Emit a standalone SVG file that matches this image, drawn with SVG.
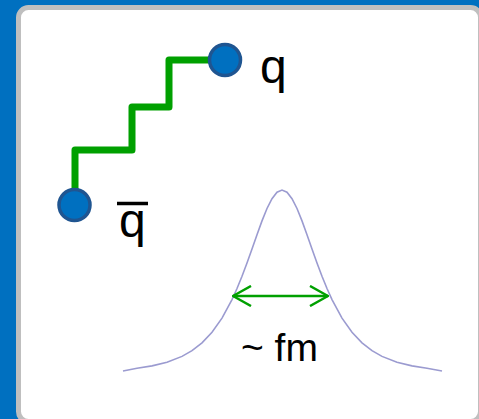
<svg xmlns="http://www.w3.org/2000/svg" width="479" height="419" viewBox="0 0 479 419">
<defs>
<style>
.lbl{font-family:"Liberation Sans",Arial,sans-serif;fill:#000}
.node{fill:#0070C0;stroke:#1F5591;stroke-width:3.5}
</style>
<marker id="ah" viewBox="0 0 20 22" refX="19" refY="11" markerWidth="20" markerHeight="22" markerUnits="userSpaceOnUse" orient="auto-start-reverse">
<path d="M1,1 L19,11 L1,21" fill="none" stroke="#00A000" stroke-width="2.5"/>
</marker>
</defs>
<rect x="0" y="0" width="479" height="419" fill="#0070C0"/>
<rect x="18.5" y="7.5" width="462" height="414" rx="10" fill="#FFFFFF" stroke="#BFBFBF" stroke-width="5"/>
<g id="connectors">
<path id="string" d="M225,60 H169 V107 H132 V150 H75 V203" fill="none" stroke="#00A000" stroke-width="7" stroke-linejoin="round"/>
<polyline id="curve" fill="none" stroke="#9B9BD0" stroke-width="1.6" points="123,371 137,368.2 152,365.9 167,362.2 182,356.4 192,350.6 202,342.8 212,332.2 222,318.1 232,299.6 237,288.5 242,276.3 247,263 252,248.9 257,234.7 262,220.9 267,208.5 272,198.7 277,192.2 282,190 287,192.2 292,198.7 297,208.5 302,220.9 307,234.7 312,248.9 317,263 322,276.3 327,288.5 332,299.6 342,318.1 352,332.2 362,342.8 372,350.6 382,356.4 397,362.2 412,365.9 427,368.2 442,371"/>
<line id="width-arrow" x1="233" y1="296" x2="328" y2="296" stroke="#00A000" stroke-width="2.5" marker-start="url(#ah)" marker-end="url(#ah)"/>
</g>
<g id="q">
<circle class="node" cx="225" cy="60" r="15.5"/>
<text class="lbl" x="260" y="83" font-size="48">q</text>
</g>
<g id="qbar">
<circle class="node" cx="74.5" cy="205" r="15.5"/>
<text class="lbl" x="119" y="237" font-size="48">q</text>
<line x1="117" y1="203.5" x2="148" y2="203.5" stroke="#000" stroke-width="3.5"/>
</g>
<g id="fm-label">
<text class="lbl" x="241" y="361" font-size="39">~ fm</text>
</g>
</svg>
